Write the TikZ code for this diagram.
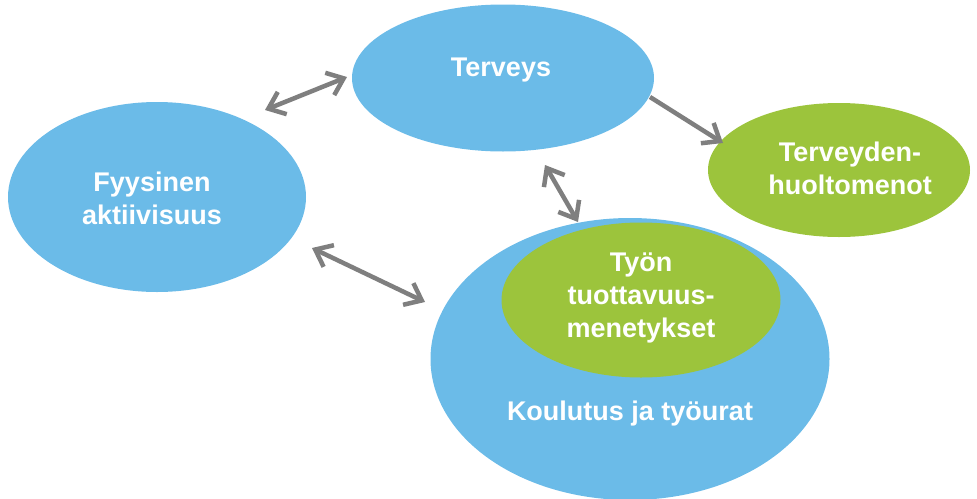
\documentclass[tikz,border=0pt]{standalone}
\usepackage{fontspec}
\setmainfont{Liberation Sans}
\usetikzlibrary{arrows.meta,shapes.geometric}
\definecolor{skyb}{HTML}{6BBBE8}
\definecolor{leaf}{HTML}{9CC43C}
\definecolor{arrgray}{HTML}{7F7F7F}
\begin{document}
\begin{tikzpicture}[x=1pt,y=-1pt,
  blob/.style={ellipse, inner sep=0pt, draw=none},
  lbl/.style={text=white, font=\fontsize{27}{33}\selectfont\bfseries, align=center, inner sep=0pt},
  conn/.style={draw=arrgray, line width=4.5pt, {Straight Barb[length=15pt,width=24pt]}-{Straight Barb[length=15pt,width=24pt]}},
  conn1/.style={draw=arrgray, line width=4.5pt, -{Straight Barb[length=15pt,width=24pt]}}]
\useasboundingbox (0,0) rectangle (977,498);
% ellipses
\node[blob, fill=skyb, minimum width=298pt, minimum height=190pt] (fa) at (157,197) {};
\node[blob, fill=skyb, minimum width=302pt, minimum height=147pt] (ter) at (503,78) {};
\node[blob, fill=leaf, minimum width=262pt, minimum height=134pt] (thm) at (839,170) {};
\node[blob, fill=skyb, minimum width=399pt, minimum height=282pt] (kou) at (630,359) {};
\node[blob, fill=leaf, minimum width=279pt, minimum height=155pt] (tyo) at (641,300) {};
% texts
\node[lbl] (tfa) at (152,198) {Fyysinen\\aktiivisuus};
\node[lbl] (tter) at (501,70) {Terveys};
\node[lbl] (tthm) at (850,168) {Terveyden-\\huoltomenot};
\node[lbl] (ttyo) at (641,298) {Työn\\tuottavuus-\\menetykset};
\node[lbl] (tkou) at (630,414) {Koulutus ja työurat};
% connector end points
\coordinate (a1) at (265,110); \coordinate (a2) at (347,77);
\coordinate (b1) at (650,97);  \coordinate (b2) at (723,143);
\coordinate (c1) at (545,165); \coordinate (c2) at (578,222);
\coordinate (d1) at (312,248); \coordinate (d2) at (425,302);
\draw[conn] (a1) -- (a2);
\draw[conn1] (b1) -- (b2);
\draw[conn] (c1) -- (c2);
\draw[conn] (d1) -- (d2);
\end{tikzpicture}
\end{document}
